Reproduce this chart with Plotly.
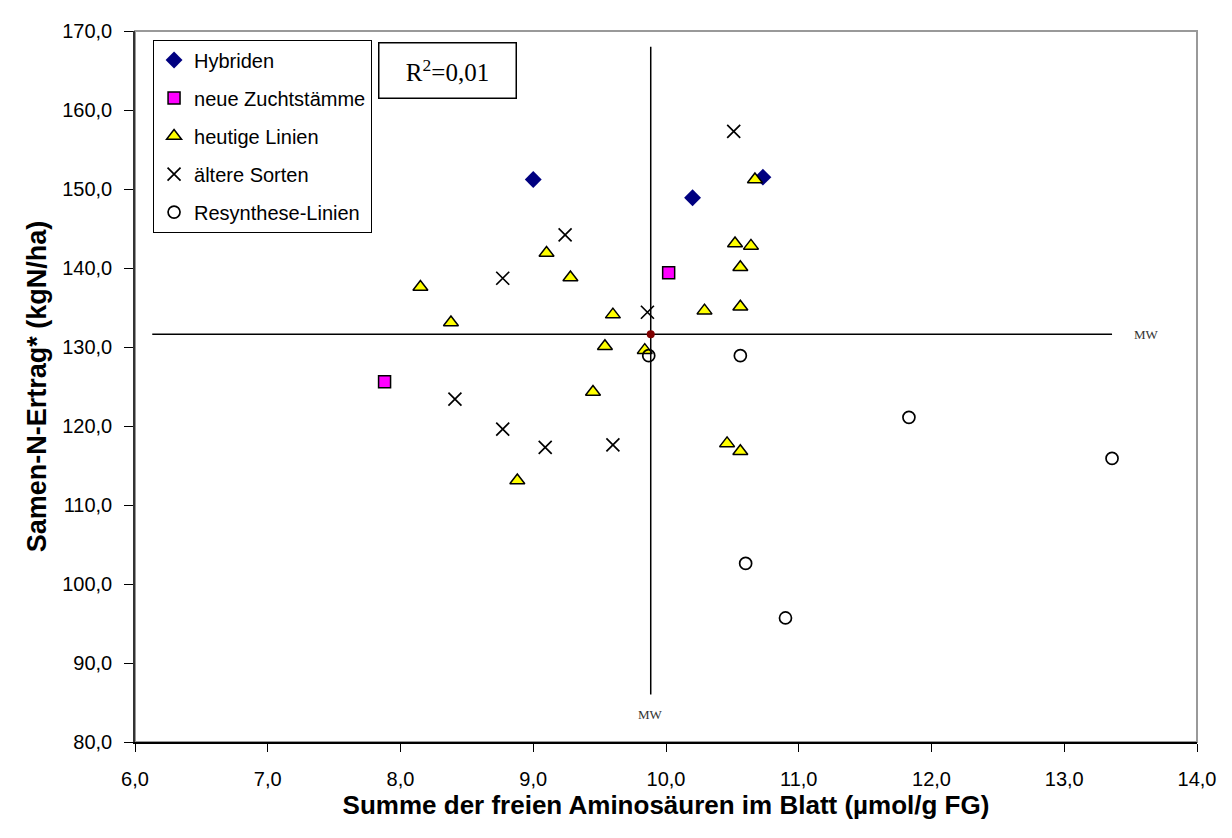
import plotly.graph_objects as go

# ---- data ----
hyb_x = [9.00, 10.20, 10.73]
hyb_y = [151.2, 148.9, 151.5]

neu_x = [10.02, 7.88]
neu_y = [139.4, 125.6]

heut_x = [10.67, 9.10, 9.28, 8.15, 8.38, 9.60, 10.29, 10.56, 10.52, 10.64, 10.56,
          9.54, 9.84, 9.45, 10.46, 10.56, 8.88]
heut_y = [151.2, 141.9, 138.8, 137.6, 133.1, 134.1, 134.6, 135.1, 143.1, 142.8, 140.1,
          130.1, 129.6, 124.3, 117.8, 116.8, 113.1]

alt_x = [10.51, 9.24, 8.77, 9.86, 8.41, 8.77, 9.09, 9.60]
alt_y = [157.3, 144.2, 138.7, 134.4, 123.4, 119.6, 117.3, 117.6]

res_x = [9.87, 10.56, 11.83, 13.36, 10.60, 10.90]
res_y = [128.9, 128.9, 121.1, 115.9, 102.6, 95.7]

mean_x = 9.885
mean_y = 131.6
h_line_x = [6.13, 13.36]
v_line_y = [86.0, 168.0]

x_ticks = [6, 7, 8, 9, 10, 11, 12, 13, 14]
y_ticks = [80, 90, 100, 110, 120, 130, 140, 150, 160, 170]

names = ["Hybriden", "neue Zuchtstämme", "heutige Linien", "ältere Sorten", "Resynthese-Linien"]

fig = go.Figure()

fig.add_trace(go.Scatter(x=hyb_x, y=hyb_y, mode="markers", name=names[0], legendgroup="a",
                         marker=dict(symbol="diamond", size=13, color="#000080",
                                     line=dict(width=0))))
fig.add_trace(go.Scatter(x=neu_x, y=neu_y, mode="markers", name=names[1], legendgroup="b",
                         marker=dict(symbol="square", size=12, color="#FF00FF",
                                     line=dict(width=1.5, color="#000000"))))
fig.add_trace(go.Scatter(x=heut_x, y=heut_y, mode="markers", name=names[2], legendgroup="c",
                         marker=dict(symbol="triangle-up", size=13, color="#FFFF00",
                                     line=dict(width=1.5, color="#000000"))))
fig.add_trace(go.Scatter(x=alt_x, y=alt_y, mode="markers", name=names[3], legendgroup="d",
                         marker=dict(symbol="x-thin-open", size=13, color="#000000",
                                     line=dict(width=1.7, color="#000000"))))
fig.add_trace(go.Scatter(x=res_x, y=res_y, mode="markers", name=names[4], legendgroup="e",
                         marker=dict(symbol="circle-open", size=12, color="#000000",
                                     line=dict(width=1.7, color="#000000"))))

# mean lines
fig.add_trace(go.Scatter(x=h_line_x, y=[mean_y, mean_y], mode="lines", showlegend=False,
                         line=dict(color="#000000", width=1.5), hoverinfo="skip"))
fig.add_trace(go.Scatter(x=[mean_x, mean_x], y=v_line_y, mode="lines", showlegend=False,
                         line=dict(color="#000000", width=1.5), hoverinfo="skip"))
fig.add_trace(go.Scatter(x=[mean_x], y=[mean_y], mode="markers", showlegend=False,
                         marker=dict(symbol="circle", size=8, color="#800000")))

# frame (top/right grey)
fig.add_shape(type="rect", xref="paper", yref="paper", x0=0, x1=1, y0=0, y1=1,
              line=dict(color="#999999", width=2), layer="below")

fig.add_annotation(x=mean_x, y=v_line_y[0], xref="x", yref="y", yshift=-20,
                   text="MW", showarrow=False,
                   font=dict(family="Liberation Serif", size=13, color="#333333"))
fig.add_annotation(x=h_line_x[1], y=mean_y, xref="x", yref="y", xshift=34, xanchor="center",
                   text="MW", showarrow=False,
                   font=dict(family="Liberation Serif", size=13, color="#333333"))

fig.add_annotation(x=0.2938, y=0.944, xref="paper", yref="paper",
                   xanchor="center", yanchor="middle",
                   text="R<sup>2</sup>=0,01", showarrow=False,
                   width=136, height=54, align="center", valign="middle",
                   font=dict(family="Liberation Serif", size=25, color="#000000"),
                   bordercolor="#000000", borderwidth=1.5, borderpad=0, bgcolor="#FFFFFF")

fig.update_layout(
    width=1224, height=830,
    margin=dict(l=127, r=35, t=16, b=96),
    paper_bgcolor="#FFFFFF", plot_bgcolor="#FFFFFF",
    separators=",.",
    font=dict(family="Liberation Sans, Arial", size=20, color="#000000"),
    showlegend=True,
    legend=dict(x=0.017, y=0.988, xanchor="left", yanchor="top",
                bordercolor="#000000", borderwidth=1, bgcolor="#FFFFFF",
                font=dict(size=20), tracegroupgap=9, itemwidth=30),
    xaxis=dict(range=[6, 14], tickvals=x_ticks, tickformat=".1f",
               showgrid=False, zeroline=False,
               showline=True, linecolor="#000000", linewidth=1.5,
               ticks="outside", ticklen=8, tickcolor="#000000",
               ticklabelstandoff=10,
               title=dict(text="<b>Summe der freien Aminosäuren im Blatt (µmol/g FG)</b>",
                          font=dict(size=26), standoff=0)),
    yaxis=dict(range=[80, 170], tickvals=y_ticks, tickformat=".1f",
               showgrid=False, zeroline=False,
               showline=True, linecolor="#333333", linewidth=1.5,
               ticks="outside", ticklen=9, tickcolor="#000000",
               ticklabelstandoff=8,
               title=dict(text="<b>Samen-N-Ertrag* (kgN/ha)</b>",
                          font=dict(size=27), standoff=8)),
)

fig.write_html("out.html")
